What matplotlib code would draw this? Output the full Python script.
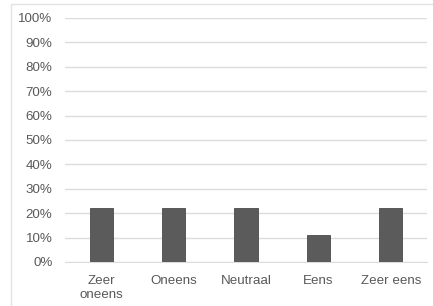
import matplotlib.pyplot as plt
from matplotlib.ticker import PercentFormatter
from matplotlib.patches import Rectangle

categories = ["Zeer\noneens", "Oneens", "Neutraal", "Eens", "Zeer eens"]
values = [22.2, 22.1, 22.2, 11.1, 22.2]
yticks = [0, 10, 20, 30, 40, 50, 60, 70, 80, 90, 100]

plt.rcParams["font.family"] = ["Liberation Sans", "DejaVu Sans"]

fig = plt.figure(figsize=(4.33, 3.06), dpi=100)
ax = fig.add_axes([65 / 433, 44 / 306, 362 / 433, 244 / 306])

# outer frame like the spreadsheet chart box
fig.patches.append(Rectangle((11 / 433, -0.05), 1.2, 1.05 - 4 / 306,
                             transform=fig.transFigure, fill=False,
                             edgecolor="#e3e3e3", linewidth=1.0))

x = range(len(categories))
ax.bar(x, values, width=0.32, color="#5b5b5b", edgecolor="#4a4a4a",
       linewidth=0.6, zorder=3)

ax.set_xlim(-0.5, len(categories) - 0.5)
ax.set_ylim(0, 100)
ax.set_yticks(yticks)
ax.yaxis.set_major_formatter(PercentFormatter(decimals=0))
ax.grid(axis="y", color="#dcdcdc", linewidth=1.0, zorder=0)

ax.set_xticks(list(x))
ax.set_xticklabels(categories, linespacing=1.3)

for s in ["top", "right", "left"]:
    ax.spines[s].set_visible(False)
ax.spines["bottom"].set_color("#dcdcdc")
ax.tick_params(axis="both", length=0, labelsize=9.6, colors="#595959")
ax.tick_params(axis="y", pad=9)
ax.tick_params(axis="x", pad=9)

fig.savefig("out.png", dpi=100)
